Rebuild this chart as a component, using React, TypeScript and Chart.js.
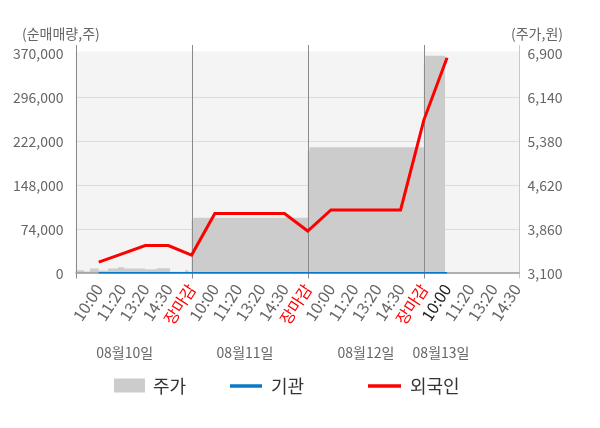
import React, { useEffect, useRef } from "react";
import { Chart, registerables } from "chart.js";

Chart.register(...registerables);

// ---- data ----
const slotLabels = [
  "10:00", "11:20", "13:20", "14:30", "장마감",
  "10:00", "11:20", "13:20", "14:30", "장마감",
  "10:00", "11:20", "13:20", "14:30", "장마감",
  "10:00", "11:20", "13:20", "14:30",
];
const dayLabels = ["08월10일", "08월11일", "08월12일", "08월13일"];

// 외국인 net volume at slots 1..16
const foreignNet = [
  19000, 33000, 47000, 47000, 31000,
  101000, 101000, 101000, 101000, 71500,
  107000, 107000, 107000, 107000, 258000,
  363000,
];
// 기관 net volume at slots 1..16
const institutionNet = [
  0, 0, 0, 0, 0,
  0, 0, 0, 0, 0,
  0, 0, 0, 0, 0,
  0,
];
// 주가 (price) steps: slot position and value
const priceSlots = [
  0, 0.37, 0.62, 1.0, 1.4, 1.83, 2.1, 3.0, 3.5, 4.07, 4.72, 4.85,
  5.0, 5.08, 10.0, 10.08, 15.0, 15.06, 15.92,
];
const priceValues = [
  3155, 3135, 3185, 3150, 3185, 3210, 3185, 3175, 3190, 3130, 3160, 3130,
  4030, 4065, 5220, 5280, 6740, 6860, 6860,
];

const FONT = '"Noto Sans CJK KR", "Noto Sans", sans-serif';
const RED = "#ff0000";
const BLUE = "#0a78c8";
const GRAY = "#cccccc";

const decorPlugin = {
  id: "decor",
  beforeDraw(chart: any) {
    const { ctx, chartArea } = chart;
    ctx.save();
    ctx.fillStyle = "#f4f4f4";
    ctx.fillRect(chartArea.left, chartArea.top - 2, chartArea.right - chartArea.left, chartArea.bottom - chartArea.top + 2);
    ctx.restore();
  },
  afterDatasetDraw(chart: any, args: any) {
    if (args.index !== 2) return;
    const { ctx, chartArea, scales } = chart;
    const x = scales.x;
    ctx.save();
    ctx.lineWidth = 1;
    // day separators
    ctx.strokeStyle = "#8a8a8a";
    [5, 10, 15].forEach((s) => {
      const px = Math.round(x.getPixelForValue(s)) + 0.5;
      ctx.beginPath();
      ctx.moveTo(px, 45);
      ctx.lineTo(px, chartArea.bottom + 5);
      ctx.stroke();
    });
    // left axis line
    const lx = Math.round(chartArea.left) + 0.5;
    ctx.beginPath();
    ctx.moveTo(lx, 45);
    ctx.lineTo(lx, chartArea.bottom + 5);
    ctx.stroke();
    // right axis line
    ctx.strokeStyle = "#c8c8c8";
    const rx = Math.round(chartArea.right) - 0.5;
    ctx.beginPath();
    ctx.moveTo(rx, 45);
    ctx.lineTo(rx, chartArea.bottom + 5);
    ctx.stroke();
    // baseline
    ctx.strokeStyle = "#999999";
    ctx.lineWidth = 1.5;
    ctx.beginPath();
    ctx.moveTo(chartArea.left, chartArea.bottom - 0.5);
    ctx.lineTo(chartArea.right, chartArea.bottom - 0.5);
    ctx.stroke();
    ctx.restore();
  },
  afterDraw(chart: any) {
    const { ctx, scales } = chart;
    const x = scales.x;
    ctx.save();
    // axis titles
    ctx.fillStyle = "#666666";
    ctx.font = `14px ${FONT}`;
    ctx.textBaseline = "middle";
    ctx.textAlign = "left";
    ctx.fillText("(순매매량,주)", 22, 34);
    ctx.textAlign = "right";
    ctx.fillText("(주가,원)", 563, 34);
    // date labels
    ctx.font = `14px ${FONT}`;
    ctx.textAlign = "center";
    const datePos = [2.12, 7.3, 12.51, 15.74];
    dayLabels.forEach((d, i) => {
      ctx.fillText(d, x.getPixelForValue(datePos[i]), 353);
    });
    // legend
    const ly = 386;
    ctx.font = `18px ${FONT}`;
    ctx.textAlign = "left";
    ctx.fillStyle = GRAY;
    ctx.fillRect(114, 378.5, 31, 14);
    ctx.fillStyle = "#333333";
    ctx.fillText("주가", 153, ly);
    ctx.lineWidth = 3.5;
    ctx.strokeStyle = BLUE;
    ctx.beginPath();
    ctx.moveTo(230, ly);
    ctx.lineTo(262, ly);
    ctx.stroke();
    ctx.fillText("기관", 271, ly);
    ctx.strokeStyle = RED;
    ctx.beginPath();
    ctx.moveTo(368, ly);
    ctx.lineTo(401, ly);
    ctx.stroke();
    ctx.fillText("외국인", 410, ly);
    ctx.restore();
  },
};

export default function App() {
  const ref = useRef<HTMLCanvasElement | null>(null);

  useEffect(() => {
    if (!ref.current) return;
    const chart = new Chart(ref.current, {
      type: "line",
      data: {
        datasets: [
          {
            label: "외국인",
            data: foreignNet.map((v, i) => ({ x: i + 1, y: v })),
            yAxisID: "y",
            borderColor: RED,
            backgroundColor: RED,
            borderWidth: 3,
            pointRadius: 0,
            tension: 0,
            fill: false,
            order: 0,
          },
          {
            label: "기관",
            data: institutionNet.map((v, i) => ({ x: i + 1, y: v })),
            yAxisID: "y",
            borderColor: BLUE,
            backgroundColor: BLUE,
            borderWidth: 3,
            pointRadius: 0,
            tension: 0,
            fill: false,
            order: 1,
          },
          {
            label: "주가",
            data: priceSlots.map((s, i) => ({ x: s, y: priceValues[i] })),
            yAxisID: "yR",
            borderColor: GRAY,
            backgroundColor: GRAY,
            borderWidth: 0,
            pointRadius: 0,
            stepped: "before",
            fill: "start",
            order: 2,
          },
        ],
      } as any,
      options: {
        animation: false,
        responsive: false,
        maintainAspectRatio: false,
        layout: { padding: { top: 53.5, left: 0, right: 0, bottom: 0 } },
        plugins: {
          legend: { display: false },
          tooltip: { enabled: false },
        },
        scales: {
          x: {
            type: "linear",
            min: 0,
            max: 19.12,
            grid: { display: false, drawTicks: false },
            border: { display: false },
            afterBuildTicks: (s: any) => {
              s.ticks = slotLabels.map((_, i) => ({ value: i + 1 }));
            },
            afterFit: (s: any) => {
              s.height = 154.5;
            },
            ticks: {
              autoSkip: false,
              minRotation: 57,
              maxRotation: 57,
              padding: 7,
              font: { family: FONT, size: 16 },
              color: (c: any) => {
                const lab = slotLabels[c.index];
                if (lab === "장마감") return RED;
                if (c.index === 15) return "#222222";
                return "#666666";
              },
              callback: (_v: any, i: number) => slotLabels[i],
            },
          },
          y: {
            position: "left",
            min: 0,
            max: 370000,
            afterFit: (s: any) => {
              s.width = 75.5;
            },
            grid: {
              drawTicks: false,
              color: (c: any) =>
                c.tick && (c.tick.value === 0 || c.tick.value === 370000) ? "rgba(0,0,0,0)" : "#dcdcdc",
            },
            border: { display: false },
            ticks: {
              stepSize: 74000,
              padding: 12,
              color: "#666666",
              font: { family: FONT, size: 14 },
              callback: (v: any) => Number(v).toLocaleString("en-US"),
            },
          },
          yR: {
            position: "right",
            min: 3100,
            max: 6900,
            afterFit: (s: any) => {
              s.width = 80.5;
            },
            grid: { display: false, drawTicks: false },
            border: { display: false },
            ticks: {
              stepSize: 760,
              padding: 8,
              color: "#666666",
              font: { family: FONT, size: 14 },
              callback: (v: any) => Number(v).toLocaleString("en-US"),
            },
          },
        },
      } as any,
      plugins: [decorPlugin],
    });
    return () => chart.destroy();
  }, []);

  return (
    <div style={{ position: "absolute", left: 0, top: 0, width: 600, height: 428, background: "#ffffff" }}>
      <canvas ref={ref} width={600} height={428} style={{ width: 600, height: 428, display: "block" }} />
    </div>
  );
}
